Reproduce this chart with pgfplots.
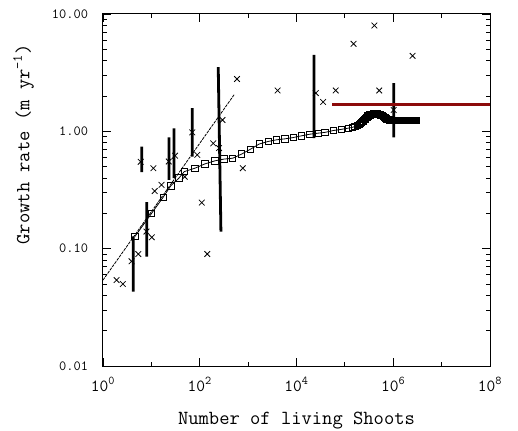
\documentclass[border=0pt]{standalone}
\usepackage{pgfplots}
\pgfplotsset{compat=1.18}
\definecolor{darkred}{rgb}{0.55,0.04,0.04}
\begin{document}
\begin{tikzpicture}
\begin{axis}[
  name=ax,
  scale only axis,
  width=387pt, height=352pt,
  xmode=log, ymode=log,
  xmin=1, xmax=1e8, ymin=0.01, ymax=10,
  axis line style={line width=1pt},
  xtick={1,1e2,1e4,1e6,1e8},
  xticklabels={10\textsuperscript{0},10\textsuperscript{2},10\textsuperscript{4},10\textsuperscript{6},10\textsuperscript{8}},
  minor xtick={10,1e3,1e5,1e7},
  ytick={0.01,0.1,1,10},
  yticklabels={0.01,0.10,1.00,10.00},
  minor ytick={0.02,0.03,0.04,0.05,0.06,0.07,0.08,0.09,0.2,0.3,0.4,0.5,0.6,0.7,0.8,0.9,2,3,4,5,6,7,8,9},
  tick align=inside,
  major tick length=8pt, minor tick length=4pt,
  every tick/.style={line width=0.9pt, black},
  tick label style={font=\ttfamily\fontsize{14}{14}\selectfont},
  yticklabel style={xshift=-11.5pt},
  xticklabel style={yshift=-8pt, font=\ttfamily\fontsize{17}{17}\selectfont},
  label style={font=\ttfamily\fontsize{20}{20}\selectfont},
  xlabel={Number of living Shoots},
  ylabel={Growth rate (m yr\textsuperscript{-1})},
  xlabel style={at={(ticklabel cs:0.5,14pt)}, anchor=near ticklabel},
  ylabel style={at={(ticklabel cs:0.63,11pt)}, anchor=near ticklabel},
]
% fit line
\addplot[black, line width=0.8pt, dash pattern=on 3pt off 1pt] coordinates {(1,0.054) (513,2.05)};
% crosses
\addplot[only marks, mark=x, mark size=4pt, mark options={line width=0.8pt}] coordinates {
(1.91,0.054) (2.57,0.050) (3.89,0.078) (5.37,0.090) (6.0,0.55) (7.9,0.14)
(10.2,0.125) (11.0,0.485) (11.7,0.31) (16.2,0.35) (22.9,0.553) (30.9,0.62)
(49,0.41) (70,0.98) (89,0.63) (110,0.247) (143,0.090) (190,0.79) (251,0.72)
(295,1.25) (589,2.79) (776,0.485) (4070,2.23) (25100,2.12) (35500,1.78)
(64600,2.23) (151000,5.57) (407000,7.98) (513000,2.23) (1.02e6,1.52) (2.51e6,4.4)
};
% squares
\addplot[black, line width=0.8pt, mark=square, mark size=3.2pt, mark options={line width=0.8pt}] coordinates {
(4.57,0.127) (10.1,0.20) (17.6,0.275) (25.1,0.343) (37.2,0.40) (47.9,0.454)
(79.4,0.485) (128,0.528) (204,0.56) (316,0.58) (479,0.59) (733,0.64)
(1122,0.705) (1698,0.78) (2600,0.82) (3890,0.847) (5754,0.863) (8511,0.885)
(12735,0.916) (19055,0.946) (28184,0.965) (38905,0.98) (57544,1.016) (85114,1.04)
(117490,1.065) (141254,1.08) (162181,1.10) (181970,1.12)
(199526,1.15) (208930,1.17) (218776,1.19) (229087,1.21) (239883,1.23) (251189,1.26)
(263027,1.28) (275423,1.31) (288403,1.33) (301995,1.35) (316228,1.37) (331131,1.38)
(346737,1.39) (363078,1.40) (380189,1.40) (398107,1.41) (416869,1.41) (436516,1.41)
(457088,1.41) (478630,1.40) (501187,1.40) (524807,1.39) (549541,1.38) (575440,1.37)
(602560,1.36) (630957,1.34) (660693,1.32) (691831,1.30) (724436,1.28) (758578,1.27)
(794328,1.26) (831764,1.25) (870964,1.25) (912011,1.24) (954993,1.24) (1e6,1.24)
(1.047e6,1.24) (1.096e6,1.24) (1.148e6,1.24) (1.202e6,1.24) (1.259e6,1.24) (1.318e6,1.24)
(1.380e6,1.24) (1.445e6,1.24) (1.514e6,1.24) (1.585e6,1.24) (1.660e6,1.24) (1.738e6,1.24)
(1.820e6,1.24) (1.905e6,1.24) (1.995e6,1.24) (2.089e6,1.24) (2.188e6,1.24) (2.291e6,1.24)
(2.399e6,1.24) (2.512e6,1.24) (2.630e6,1.24) (2.754e6,1.24) (2.884e6,1.24) (3.020e6,1.24)
};
% error bars
\addplot[black, line width=2.8pt, unbounded coords=jump] coordinates {
(4.23,0.043) (4.23,0.127) (4.23,nan)
(6.3,0.45) (6.3,0.74) (6.3,nan)
(8.0,0.0857) (8.0,0.249) (8.0,nan)
(23.1,0.386) (23.1,0.89) (23.1,nan)
(29.3,0.40) (29.3,1.06) (29.3,nan)
(70,0.61) (70,1.58) (70,nan)
(241,3.53) (274,0.14) (274,nan)
(22900,0.875) (22900,4.49) (22900,nan)
(1.02e6,0.89) (1.02e6,2.58)
};
% red line
\addplot[darkred, line width=2.8pt] coordinates {(5.5e4,1.70) (1e8,1.70)};
\end{axis}
\pgfresetboundingbox
\path[use as bounding box] ([shift={(-103pt,-64pt)}]ax.south west) rectangle ([shift={(28pt,14pt)}]ax.north east);
\end{tikzpicture}
\end{document}
